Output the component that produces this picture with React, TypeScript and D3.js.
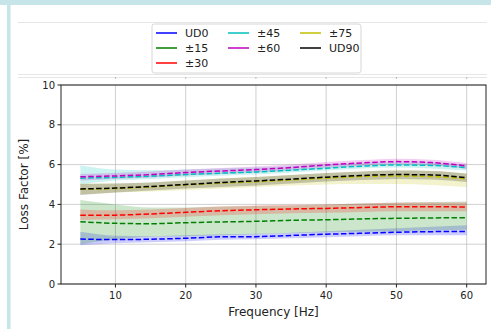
import React from "react";
import * as d3 from "d3";

// frequencies (Hz) where the loss factor was sampled
const freqs = [5, 10, 15, 20, 25, 30, 35, 40, 45, 50, 55, 60];

// mean loss factor [%] per ply orientation, with the band limits
const ud0 = [2.26, 2.23, 2.25, 2.3, 2.37, 2.38, 2.44, 2.5, 2.55, 2.6, 2.63, 2.64];
const ud0Lo = [1.95, 2.05, 2.1, 2.15, 2.22, 2.25, 2.3, 2.35, 2.4, 2.45, 2.45, 2.45];
const ud0Hi = [2.62, 2.42, 2.4, 2.45, 2.5, 2.52, 2.58, 2.65, 2.72, 2.8, 2.88, 2.95];

const pm15 = [3.13, 3.05, 3.03, 3.08, 3.12, 3.15, 3.2, 3.23, 3.27, 3.3, 3.32, 3.33];
const pm15Lo = [2.0, 2.25, 2.38, 2.4, 2.45, 2.5, 2.55, 2.6, 2.62, 2.65, 2.7, 2.72];
const pm15Hi = [4.22, 4.0, 3.85, 3.85, 3.9, 3.92, 3.95, 4.0, 4.05, 4.1, 4.12, 4.15];

const pm30 = [3.45, 3.46, 3.52, 3.6, 3.68, 3.73, 3.77, 3.8, 3.84, 3.88, 3.88, 3.87];
const pm30Lo = [3.22, 3.25, 3.3, 3.38, 3.45, 3.5, 3.55, 3.58, 3.62, 3.65, 3.65, 3.65];
const pm30Hi = [3.75, 3.7, 3.74, 3.82, 3.9, 3.95, 3.98, 4.0, 4.04, 4.08, 4.1, 4.1];

const pm45 = [5.32, 5.36, 5.42, 5.5, 5.57, 5.63, 5.72, 5.82, 5.92, 5.98, 5.96, 5.85];
const pm45Lo = [5.0, 5.2, 5.28, 5.36, 5.44, 5.5, 5.6, 5.7, 5.8, 5.85, 5.8, 5.7];
const pm45Hi = [5.95, 5.75, 5.72, 5.75, 5.8, 5.85, 5.92, 6.0, 6.08, 6.12, 6.1, 6.0];

const pm60 = [5.39, 5.43, 5.5, 5.6, 5.68, 5.75, 5.85, 5.98, 6.08, 6.15, 6.1, 5.93];
const pm60Lo = [5.2, 5.28, 5.35, 5.45, 5.53, 5.6, 5.7, 5.83, 5.93, 6.0, 5.95, 5.78];
const pm60Hi = [5.53, 5.58, 5.65, 5.75, 5.83, 5.9, 6.0, 6.13, 6.23, 6.3, 6.25, 6.08];

const pm75 = [4.76, 4.8, 4.88, 4.98, 5.07, 5.14, 5.23, 5.32, 5.4, 5.43, 5.4, 5.28];
const pm75Lo = [4.5, 4.6, 4.65, 4.72, 4.8, 4.88, 4.95, 5.0, 5.02, 5.02, 4.98, 4.88];
const pm75Hi = [5.05, 5.05, 5.1, 5.2, 5.3, 5.38, 5.48, 5.58, 5.65, 5.7, 5.68, 5.55];

const ud90 = [4.78, 4.82, 4.9, 5.0, 5.1, 5.18, 5.27, 5.37, 5.45, 5.5, 5.48, 5.34];
const ud90Lo = [4.47, 4.6, 4.7, 4.8, 4.88, 4.95, 5.05, 5.15, 5.22, 5.28, 5.25, 5.12];
const ud90Hi = [5.03, 5.05, 5.1, 5.2, 5.3, 5.38, 5.48, 5.58, 5.65, 5.7, 5.68, 5.55];

const xTicks = [10, 20, 30, 40, 50, 60];
const yTicks = [0, 2, 4, 6, 8, 10];

const series = [
  { name: "UD0", color: "#0000ff", mean: ud0, lo: ud0Lo, hi: ud0Hi },
  { name: "±15", color: "#008000", mean: pm15, lo: pm15Lo, hi: pm15Hi },
  { name: "±30", color: "#ff0000", mean: pm30, lo: pm30Lo, hi: pm30Hi },
  { name: "±45", color: "#00bfbf", mean: pm45, lo: pm45Lo, hi: pm45Hi },
  { name: "±60", color: "#bf00bf", mean: pm60, lo: pm60Lo, hi: pm60Hi },
  { name: "±75", color: "#bfbf00", mean: pm75, lo: pm75Lo, hi: pm75Hi },
  { name: "UD90", color: "#000000", mean: ud90, lo: ud90Lo, hi: ud90Hi },
];

// legend slots (col, row): matplotlib puts 3,2,2 entries in the columns
const legendSlots = [[0, 0], [0, 1], [0, 2], [1, 0], [1, 1], [2, 0], [2, 1]];

const W = 491;
const H = 329;
const left = 61;
const right = 486;
const top = 85;
const bottom = 284;
const font = "DejaVu Sans, sans-serif";

export default function App() {
  const x = d3.scaleLinear().domain([2.25, 62.75]).range([left, right]);
  const y = d3.scaleLinear().domain([0, 10]).range([bottom, top]);

  const area = (s) =>
    d3
      .area<number>()
      .x((d, i) => x(freqs[i]))
      .y0((d, i) => y(s.lo[i]))
      .y1((d, i) => y(s.hi[i]))
      .curve(d3.curveMonotoneX)(s.mean);

  const line = d3
    .line<number>()
    .x((d, i) => x(freqs[i]))
    .y((d) => y(d))
    .curve(d3.curveMonotoneX);

  const legX = 152;
  const legY = 24;

  return (
    <svg width={W} height={H} style={{ position: "absolute", left: 0, top: 0 }}>
      <rect width={W} height={H} fill="#fff" />
      {/* page frame */}
      <rect x={0} y={0} width={W} height={5} fill="#c6e5e8" />
      <rect x={7} y={0} width={3.5} height={H} fill="#c6e5e8" />
      <line x1={18} x2={487} y1={22.5} y2={22.5} stroke="#e6e6e6" />
      <line x1={18} x2={487} y1={74.5} y2={74.5} stroke="#e6e6e6" />
      <line x1={18} x2={487} y1={77.5} y2={77.5} stroke="#e6e6e6" />
      {xTicks.map((t) => (
        <line key={"tt" + t} x1={x(t)} x2={x(t)} y1={77} y2={79} stroke="#bbb" />
      ))}

      {/* grid */}
      {xTicks.map((t) => (
        <line key={"gx" + t} x1={x(t)} x2={x(t)} y1={top} y2={bottom} stroke="#b0b0b0" strokeOpacity={0.6} />
      ))}
      {yTicks.map((t) => (
        <line key={"gy" + t} x1={left} x2={right} y1={y(t)} y2={y(t)} stroke="#b0b0b0" strokeOpacity={0.6} />
      ))}

      {/* bands */}
      {series.map((s) => (
        <path key={"a" + s.name} d={area(s)} fill={s.color} fillOpacity={0.2} />
      ))}
      {/* mean lines */}
      {series.map((s) => (
        <path
          key={"l" + s.name}
          d={line(s.mean)}
          fill="none"
          stroke={s.color}
          strokeWidth={1.5}
          strokeDasharray="5.5,2.4"
        />
      ))}

      {/* spines */}
      <rect x={left} y={top} width={right - left} height={bottom - top} fill="none" stroke="#222" strokeWidth={1} />

      {/* y axis */}
      {yTicks.map((t) => (
        <g key={"yt" + t}>
          <line x1={left - 3.5} x2={left} y1={y(t)} y2={y(t)} stroke="#222" />
          <text x={left - 6} y={y(t)} dy="0.35em" textAnchor="end" fontSize={10} fontFamily={font} fill="#222">
            {t}
          </text>
        </g>
      ))}
      {/* x axis */}
      {xTicks.map((t) => (
        <g key={"xt" + t}>
          <line x1={x(t)} x2={x(t)} y1={bottom} y2={bottom + 3.5} stroke="#222" />
          <text x={x(t)} y={bottom + 15} textAnchor="middle" fontSize={10} fontFamily={font} fill="#222">
            {t}
          </text>
        </g>
      ))}
      <text x={(left + right) / 2} y={316} textAnchor="middle" fontSize={12} fontFamily={font} fill="#222">
        Frequency [Hz]
      </text>
      <text
        transform={`translate(28,${(top + bottom) / 2}) rotate(-90)`}
        textAnchor="middle"
        fontSize={12}
        fontFamily={font}
        fill="#222"
      >
        Loss Factor [%]
      </text>

      {/* legend */}
      <rect x={legX} y={legY} width={209} height={49} rx={2.5} fill="#fff" fillOpacity={0.8} stroke="#d6d6d6" />
      {series.map((s, i) => {
        const [col, row] = legendSlots[i];
        const lx = legX + 4 + col * 72;
        const ly = legY + 9 + row * 15;
        return (
          <g key={"lg" + s.name}>
            <line x1={lx} x2={lx + 21} y1={ly} y2={ly} stroke={s.color} strokeWidth={1.5} />
            <text x={lx + 29} y={ly} dy="0.35em" fontSize={11} fontFamily={font} fill="#222">
              {s.name}
            </text>
          </g>
        );
      })}
    </svg>
  );
}
